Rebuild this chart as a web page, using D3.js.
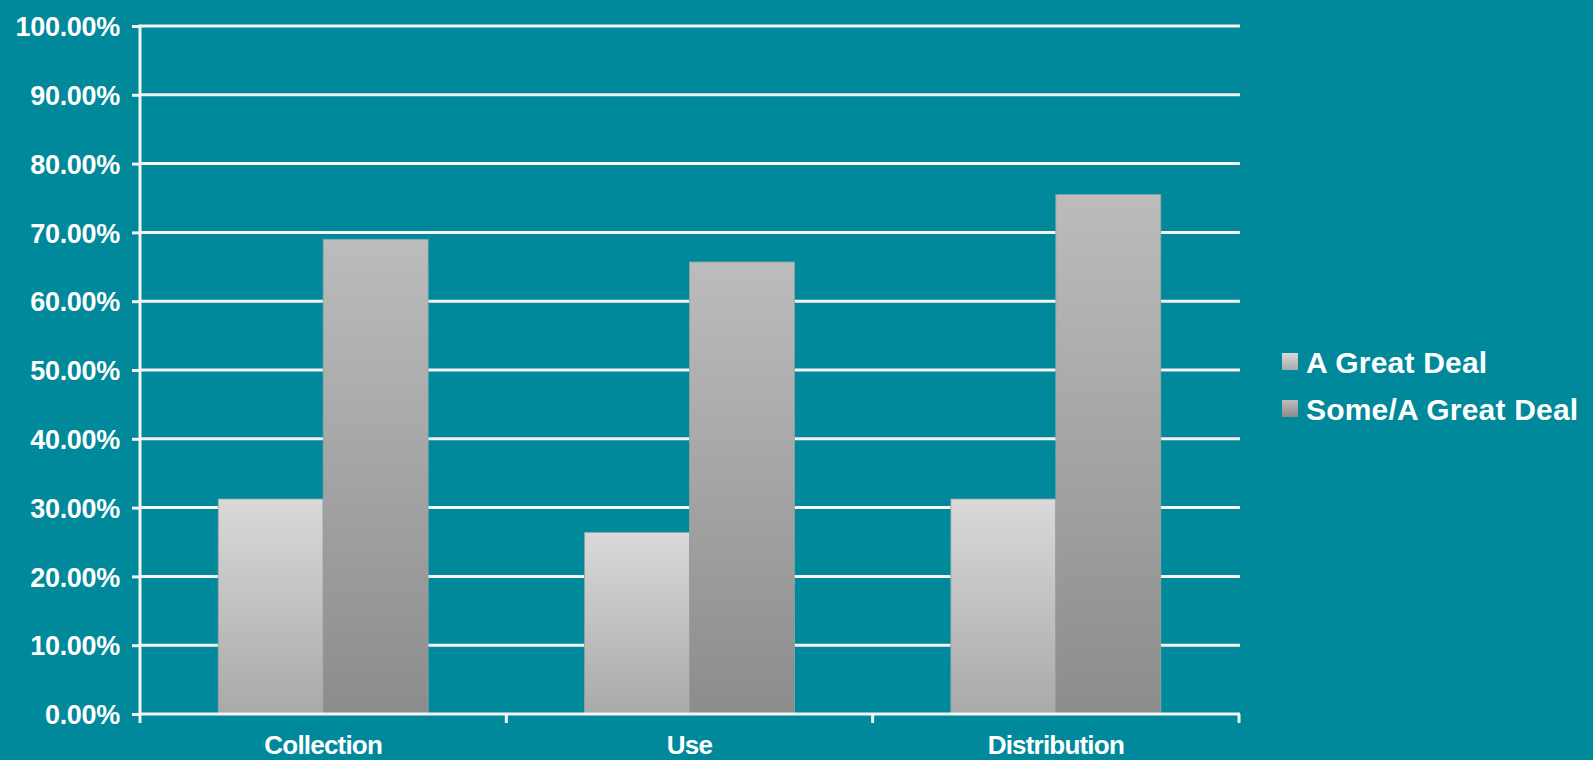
<!DOCTYPE html>
<html>
<head>
<meta charset="utf-8">
<script src="https://cdn.jsdelivr.net/npm/d3@7"></script>
<style>
  html, body { margin: 0; padding: 0; background: #00899b; }
  svg { display: block; }
  text { font-family: "Liberation Sans", Arial, sans-serif; fill: #ffffff; }
</style>
</head>
<body>
<svg id="chart" width="1593" height="760"></svg>
<script>
const categories = ["Collection", "Use", "Distribution"];
const seriesNames = ["A Great Deal", "Some/A Great Deal"];
const greatDeal = [31.25, 26.4, 31.25];
const someGreatDeal = [69.0, 65.7, 75.5];
const yTicks = [0, 10, 20, 30, 40, 50, 60, 70, 80, 90, 100];

const W = 1593, H = 760;
const margin = { left: 140, right: 354, top: 26, bottom: 46 };
const svg = d3.select("#chart");

// background
svg.append("rect").attr("width", W).attr("height", H).attr("fill", "#00899b");

const defs = svg.append("defs");
const grads = [
  { id: "g0", top: "#d9d9d9", bottom: "#a9a9a9" },
  { id: "g1", top: "#bcbcbc", bottom: "#8c8c8c" }
];
grads.forEach(g => {
  const lg = defs.append("linearGradient").attr("id", g.id)
    .attr("x1", 0).attr("y1", 0).attr("x2", 0).attr("y2", 1);
  lg.append("stop").attr("offset", "0%").attr("stop-color", g.top);
  lg.append("stop").attr("offset", "100%").attr("stop-color", g.bottom);
});
const fills = ["url(#g0)", "url(#g1)"];

const x0 = d3.scaleBand().domain(categories)
  .range([margin.left, W - margin.right]).paddingInner(0).paddingOuter(0);
const x1 = d3.scaleBand().domain(seriesNames)
  .range([0, x0.bandwidth()]).paddingInner(0).paddingOuter(0.745);
const y = d3.scaleLinear().domain([0, 100]).range([H - margin.bottom, margin.top]);

// gridlines
const grid = svg.append("g");
grid.selectAll("line").data(yTicks.filter(d => d > 0)).join("line")
  .attr("x1", margin.left).attr("x2", W - margin.right + 1)
  .attr("y1", d => y(d)).attr("y2", d => y(d))
  .attr("stroke", "#f4f4f4").attr("stroke-width", 3);

// y axis
const yAxis = d3.axisLeft(y).tickValues(yTicks).tickSize(8).tickPadding(12)
  .tickFormat(d => d.toFixed(2) + "%");
const gy = svg.append("g").attr("transform", `translate(${margin.left},0)`).call(yAxis);
gy.select(".domain").attr("stroke", "#f4f4f4").attr("stroke-width", 3)
  .attr("d", `M0,${y(100)-1.5}V${y(0)+9}`);
gy.selectAll(".tick line").attr("stroke", "#f4f4f4").attr("stroke-width", 3);
gy.selectAll(".tick text").attr("fill", "#fff").attr("font-size", 27)
  .style("font-weight", "bold").attr("font-family", "Liberation Sans, Arial, sans-serif")
  .attr("letter-spacing", "-0.3px").attr("dy", "0.36em");

// bars
const data = categories.map((c, i) => ({ cat: c, vals: [greatDeal[i], someGreatDeal[i]] }));
const bars = svg.append("g");
data.forEach(d => {
  d.vals.forEach((v, j) => {
    bars.append("rect")
      .attr("x", x0(d.cat) + x1(seriesNames[j]))
      .attr("y", y(v))
      .attr("width", x1.bandwidth())
      .attr("height", y(0) - y(v))
      .attr("fill", fills[j])
      .attr("stroke", "#8fa3a8").attr("stroke-width", 0.8);
  });
});

// x axis
const xAxis = d3.axisBottom(x0).tickSize(0).tickPadding(22);
const gx = svg.append("g").attr("transform", `translate(0,${y(0)})`).call(xAxis);
gx.select(".domain").remove();
svg.append("line").attr("x1", margin.left).attr("x2", W - margin.right + 1)
  .attr("y1", y(0)).attr("y2", y(0)).attr("stroke", "#f4f4f4").attr("stroke-width", 3);
const bounds = [...categories.slice(1).map(c => x0(c)), W - margin.right];
svg.append("g").selectAll("line").data(bounds).join("line")
  .attr("x1", d => d).attr("x2", d => d)
  .attr("y1", y(0)).attr("y2", y(0) + 9)
  .attr("stroke", "#f4f4f4").attr("stroke-width", 3);
gx.selectAll(".tick text").attr("fill", "#fff").attr("font-size", 26)
  .style("font-weight", "bold").attr("font-family", "Liberation Sans, Arial, sans-serif")
  .attr("letter-spacing", "-0.8px").attr("dy", "0.71em");

// legend
const legend = svg.append("g").attr("transform", "translate(1282,344)");
seriesNames.forEach((s, i) => {
  const g = legend.append("g").attr("transform", `translate(0,${i * 47})`);
  g.append("rect").attr("x", 0).attr("y", 9).attr("width", 16).attr("height", 17)
    .attr("fill", fills[i]);
  g.append("text").attr("x", 24).attr("y", 29).attr("font-size", 30)
    .style("font-weight", "bold").attr("letter-spacing", "0.2px").text(s);
});
</script>
</body>
</html>
